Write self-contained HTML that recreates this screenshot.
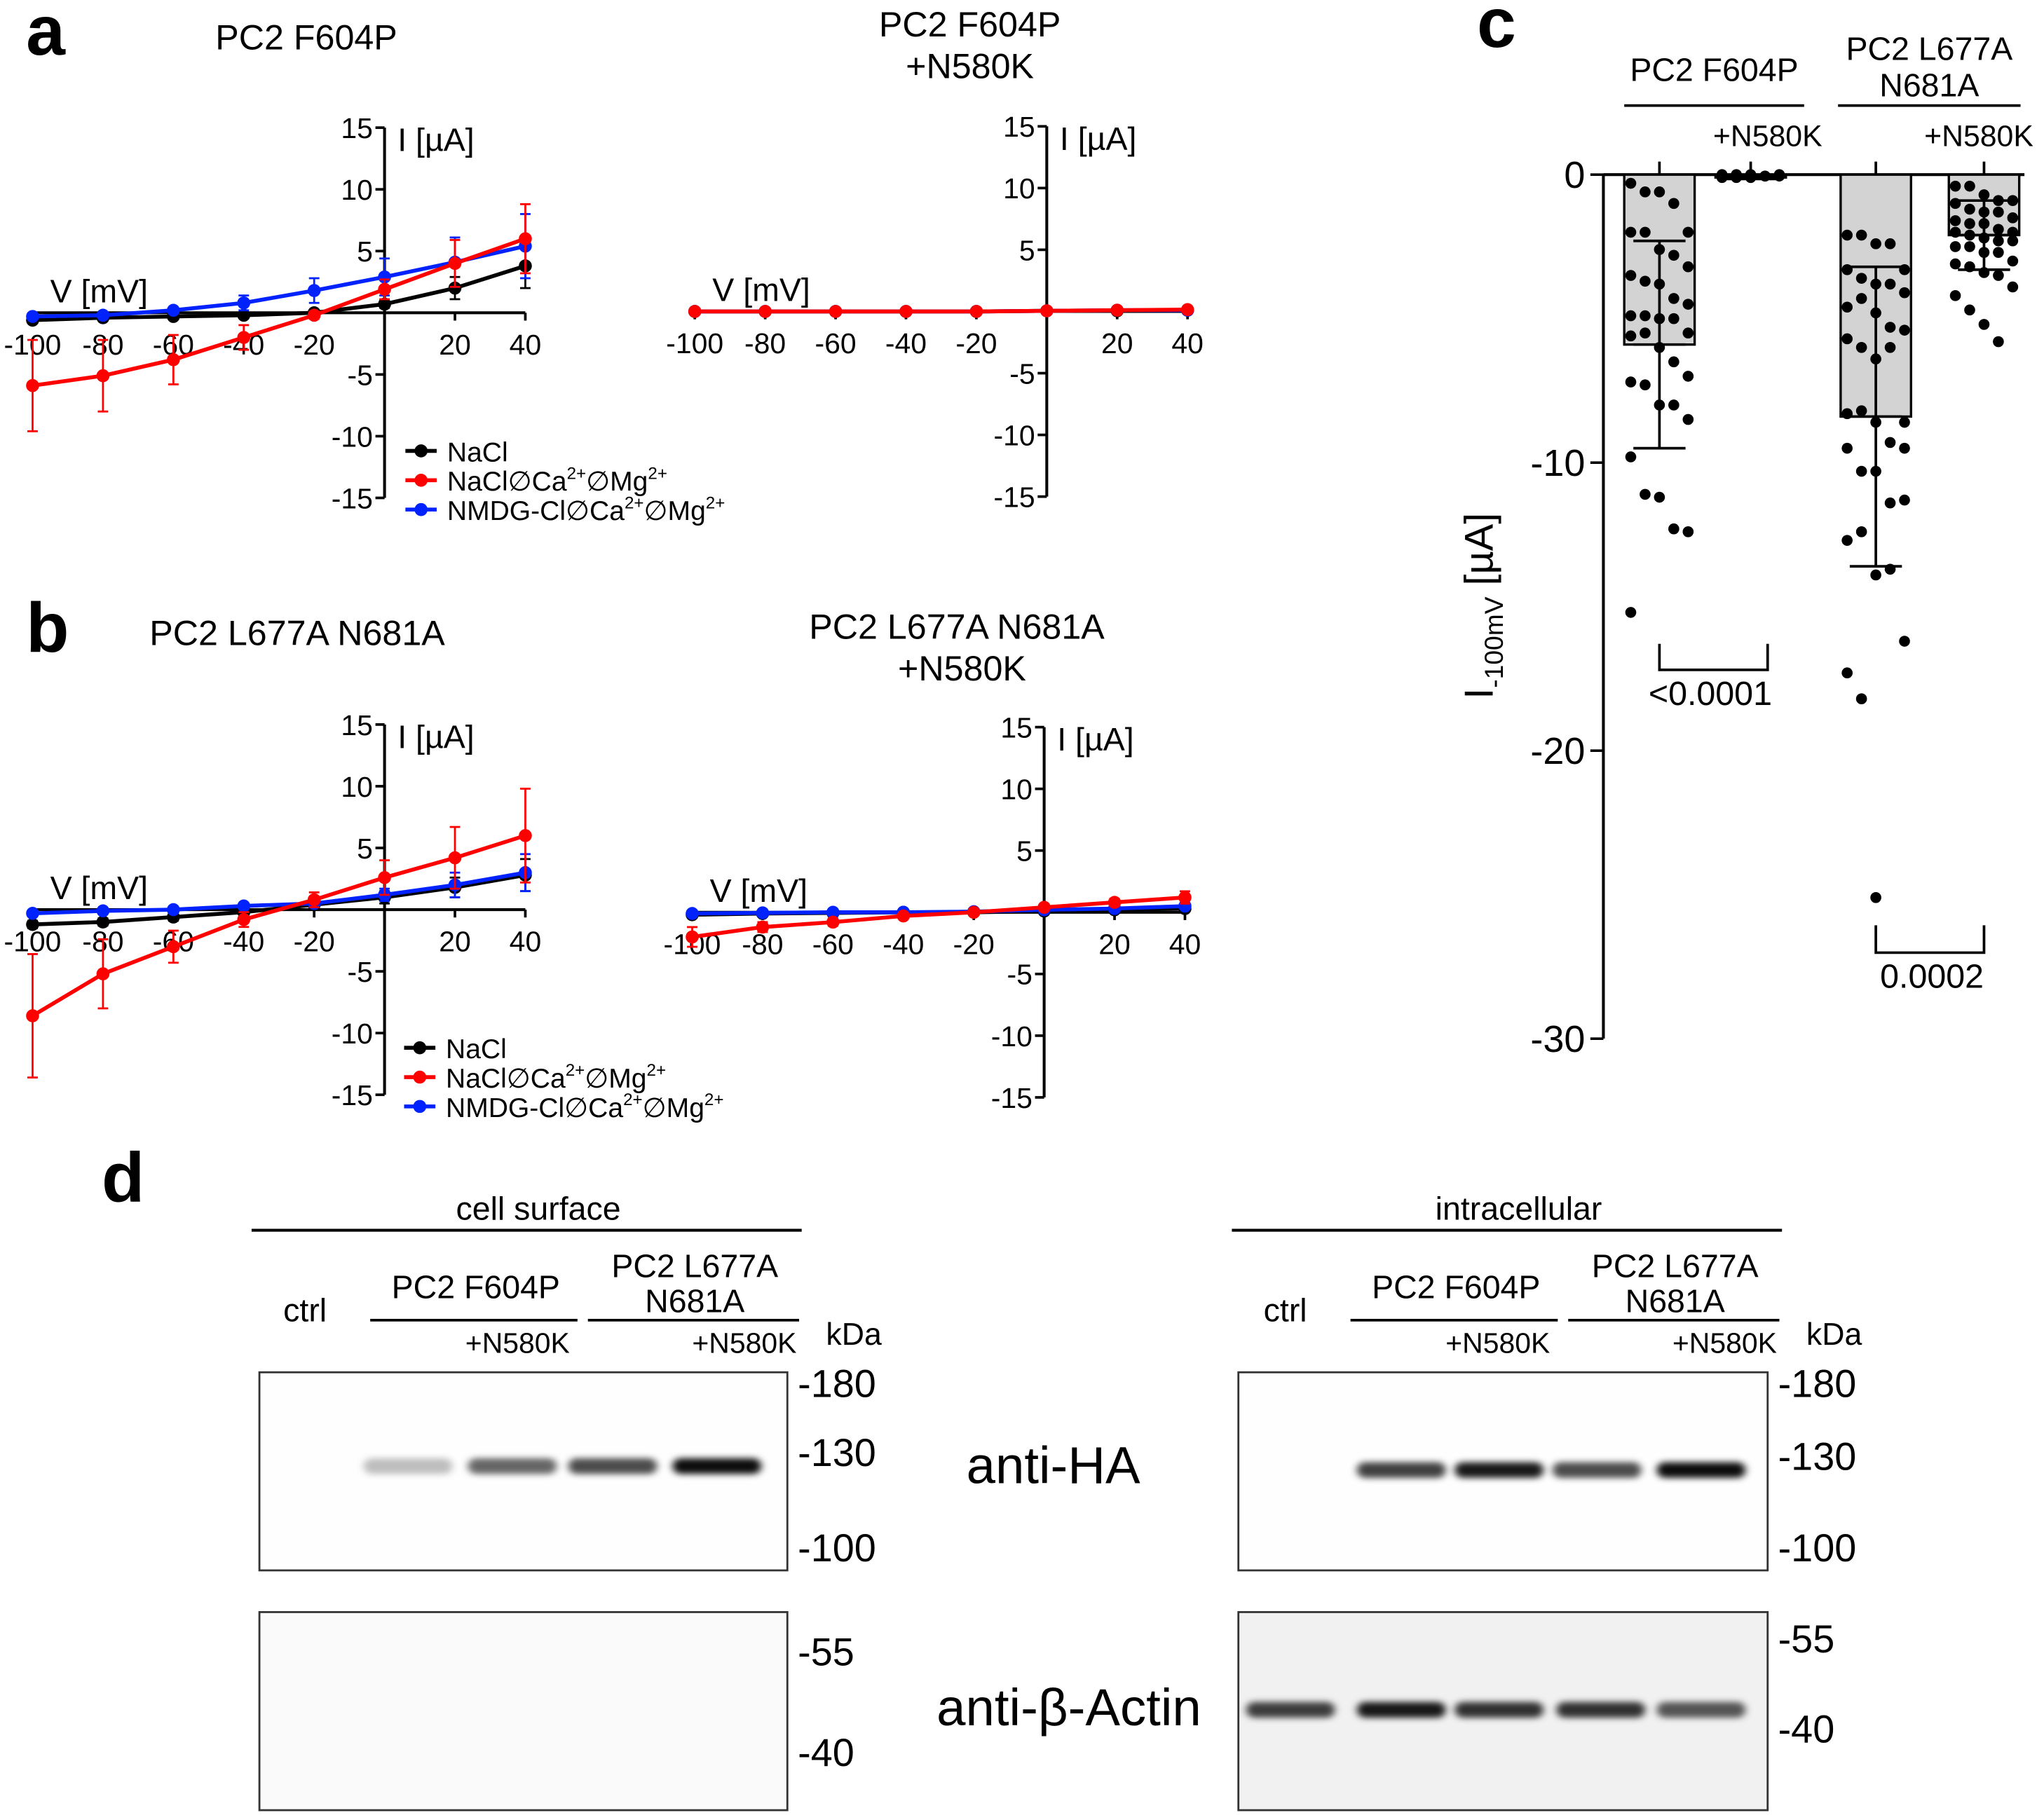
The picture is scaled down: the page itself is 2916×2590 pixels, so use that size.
<!DOCTYPE html>
<html><head><meta charset="utf-8"><style>
html,body{margin:0;padding:0;background:#fff;}
svg{display:block;font-family:"Liberation Sans Narrow","Liberation Sans",sans-serif;}
</style></head><body>
<svg id="fig" width="2916" height="2590" viewBox="0 0 1568 1392.7" xmlns="http://www.w3.org/2000/svg">
<defs>
<filter id="blur" x="-20%" y="-100%" width="140%" height="300%"><feGaussianBlur stdDeviation="3 2.5"/></filter>
</defs>
<g id="root"></g>
</svg>
<script>
// ---- Panel a/b data (I in µA at voltages) ----
const voltages = [-100,-80,-60,-40,-20,0,20,40];
const yTicks = [15,10,5,-5,-10,-15];
const xTickLabels = [-100,-80,-60,-40,-20,20,40];
// a-left PC2 F604P
const aL_nacl = [-0.6,-0.4,-0.3,-0.2,0,0.7,2.0,3.8];
const aL_nacl_err = [0.2,0.2,0.2,0.2,0.2,0.3,0.9,1.8];
const aL_red = [-5.9,-5.1,-3.8,-2.0,-0.2,1.9,4.0,6.0];
const aL_red_err = [3.7,2.9,2.0,1.0,0.3,0.8,1.9,2.8];
const aL_blue = [-0.3,-0.2,0.2,0.8,1.8,2.9,4.1,5.4];
const aL_blue_err = [0.2,0.2,0.2,0.6,1.0,1.5,2.0,2.6];
// a-right PC2 F604P +N580K
const aR_nacl = [0,0,0,0,0,0.05,0.05,0.1];
const aR_nacl_err = [0.1,0.1,0.1,0.1,0.1,0.1,0.1,0.1];
const aR_red = [0,0,0,0,0,0.05,0.1,0.15];
const aR_red_err = [0.1,0.1,0.1,0.1,0.1,0.1,0.1,0.1];
const aR_blue = [0,0,0,0,0,0.05,0.1,0.1];
const aR_blue_err = [0.1,0.1,0.1,0.1,0.1,0.1,0.1,0.1];
// b-left PC2 L677A N681A
const bL_nacl = [-1.2,-1.0,-0.6,-0.2,0.4,1.0,1.8,2.8];
const bL_nacl_err = [0.3,0.3,0.3,0.3,0.4,0.5,0.8,1.3];
const bL_red = [-8.6,-5.2,-3.0,-0.8,0.8,2.6,4.2,6.0];
const bL_red_err = [5.0,2.8,1.3,0.6,0.6,1.4,2.5,3.8];
const bL_blue = [-0.3,-0.1,0.0,0.3,0.5,1.2,2.0,3.0];
const bL_blue_err = [0.2,0.2,0.2,0.2,0.3,0.5,1.0,1.5];
// b-right PC2 L677A N681A +N580K
const bR_nacl = [-0.2,-0.1,-0.05,0,0,0.1,0.2,0.3];
const bR_nacl_err = [0.2,0.1,0.1,0.1,0.1,0.1,0.1,0.2];
const bR_red = [-2.0,-1.2,-0.8,-0.3,0,0.4,0.8,1.2];
const bR_red_err = [0.8,0.4,0.3,0.2,0.1,0.2,0.3,0.5];
const bR_blue = [-0.1,-0.05,0,0,0.05,0.2,0.3,0.5];
const bR_blue_err = [0.1,0.1,0.1,0.1,0.1,0.1,0.1,0.2];
// ---- Panel c data (I at -100 mV, µA) ----
const cGroups = ["PC2 F604P","+N580K","PC2 L677A N681A","+N580K"];
const cMeans = [-5.9,-0.1,-8.4,-2.1];
const cSD = [3.6,0.05,5.2,1.2];
const c1 = [-0.3,-0.6,-0.6,-1.0,-2.0,-2.0,-2.0,-2.6,-2.8,-3.2,-3.5,-3.7,-3.8,-4.3,-4.5,-4.9,-4.9,-5.0,-5.0,-5.5,-5.6,-5.5,-6.0,-6.5,-7.0,-7.2,-7.3,-8.0,-8.0,-8.5,-9.8,-11.1,-11.2,-12.3,-12.4,-15.2];
const c2 = [0,0,0,-0.05,-0.05,-0.05,-0.1,-0.1,-0.05,0,-0.1,-0.05];
const c3 = [-2.1,-2.1,-2.4,-2.4,-3.3,-3.3,-3.6,-3.8,-3.8,-4.1,-4.6,-4.3,-4.8,-5.3,-5.4,-5.7,-6.0,-6.4,-6.0,-8.6,-8.3,-8.2,-8.6,-9.3,-9.5,-9.5,-10.3,-10.3,-11.4,-11.3,-12.7,-12.4,-13.9,-13.7,-16.2,-17.3,-18.2,-25.1];
const c4 = [-0.4,-0.4,-0.7,-0.9,-0.9,-1.0,-1.2,-1.3,-1.3,-1.5,-1.6,-1.7,-1.7,-1.9,-2.0,-2.0,-2.1,-2.2,-2.3,-2.3,-2.5,-2.5,-2.7,-2.7,-3.0,-3.1,-3.2,-3.4,-3.5,-3.9,-4.2,-4.7,-5.2,-5.8];
// ---- Blot data (relative band intensity 0..1) ----
const laneLabels = ["ctrl","PC2 F604P","+N580K","PC2 L677A N681A","+N580K"];
const surfHA = [0,0.25,0.6,0.7,0.95];
const surfActin = [0,0,0,0,0];
const intraHA = [0,0.75,0.9,0.7,0.95];
const intraActin = [0.75,0.9,0.8,0.8,0.65];

const NS="http://www.w3.org/2000/svg";
const root=document.getElementById('root');
function mk(tag,attrs,parent){const e=document.createElementNS(NS,tag);for(const k in attrs)e.setAttribute(k,attrs[k]);(parent||root).appendChild(e);return e;}
function txt(x,y,s,size,anchor,parent,extra){const t=mk('text',Object.assign({x:x,y:y,'font-size':size,'text-anchor':anchor||'start',fill:'#000'},extra||{}),parent);t.textContent=s;return t;}

function ivPlot(name,ox,oy,vals,errs){
  const g=mk('g',{});
  
  
  const sx=v=>ox+v*2.7, sy=i=>oy-i*9.47;
  // axes
  const xa=mk('line',{x1:sx(-101),y1:oy,x2:sx(40),y2:oy,stroke:'#000','stroke-width':2.2},g);
  
  
  const ya=mk('line',{x1:ox,y1:sy(15),x2:ox,y2:sy(-15),stroke:'#000','stroke-width':2.2},g);
  
  
  yTicks.forEach(t=>{mk('line',{x1:ox-7,y1:sy(t),x2:ox,y2:sy(t),stroke:'#000','stroke-width':2},g);
    const l=txt(ox-9,sy(t)+8,String(t),22,'end',g);
    
    });
  xTickLabels.forEach(v=>{mk('line',{x1:sx(v),y1:oy,x2:sx(v),y2:oy+6,stroke:'#000','stroke-width':2},g);
    const l=txt(sx(v),oy+32,String(v),22,'middle',g);
    
    });
  mk('line',{x1:sx(0),y1:oy,x2:sx(0),y2:oy+6,stroke:'#000','stroke-width':2},g);
  const yl=txt(ox+10,sy(15)+18,'I [µA]',25,'start',g);
  
  
  const xl=txt(sx(-95),oy-8,'V [mV]',25,'start',g);
  
  
  const cols=['#000','#f00','#0022ff'];const names=['nacl','nacl-0ca-0mg','nmdg-0ca-0mg'];
  [0,2,1].forEach(s=>{
    const d=vals[s],e=errs[s];
    const sg=mk('g',{},g);
    
    
    d.forEach((v,i)=>{
      const x=sx(voltages[i]);
      mk('line',{x1:x,y1:sy(v-e[i]),x2:x,y2:sy(v+e[i]),stroke:cols[s],'stroke-width':1.5},sg);
      mk('line',{x1:x-4,y1:sy(v-e[i]),x2:x+4,y2:sy(v-e[i]),stroke:cols[s],'stroke-width':1.5},sg);
      mk('line',{x1:x-4,y1:sy(v+e[i]),x2:x+4,y2:sy(v+e[i]),stroke:cols[s],'stroke-width':1.5},sg);
    });
    mk('polyline',{points:d.map((v,i)=>sx(voltages[i])+','+sy(v)).join(' '),fill:'none',stroke:cols[s],'stroke-width':3},sg);
    d.forEach((v,i)=>{const c=mk('circle',{cx:sx(voltages[i]),cy:sy(v),r:5,fill:cols[s]},sg);
      
      });
  });
}
function legend(x,y){
  const g=mk('g',{});
  
  
  const cols=['#000','#f00','#0022ff'];
  const labs=['NaCl','NaCl∅Ca<sup>2+</sup>∅Mg<sup>2+</sup>','NMDG-Cl∅Ca<sup>2+</sup>∅Mg<sup>2+</sup>'];
  const items=[['NaCl'],['NaCl∅Ca','2+','∅Mg','2+'],['NMDG-Cl∅Ca','2+','∅Mg','2+']];
  items.forEach((it,i)=>{
    const yy=y+i*22.5;
    const e=mk('g',{},g);
    
    
    mk('line',{x1:x,y1:yy,x2:x+24,y2:yy,stroke:cols[i],'stroke-width':3},e);
    mk('circle',{cx:x+12,cy:yy,r:5,fill:cols[i]},e);
    const t=mk('text',{x:x+32,y:yy+8,'font-size':21,fill:'#000'},e);
    it.forEach((p,k)=>{const ts=mk('tspan',k%2?{'font-size':13,dy:-9}:(k>0?{dy:9}:{}),t);ts.textContent=p;});
  });
}
// panel letters and titles
[['a',20,42],['b',20,500],['c',1133,36],['d',78,922]].forEach(([s,x,y])=>{const t=txt(x,y,s,54,'start',null,{'font-weight':'bold','font-family':'Liberation Sans, sans-serif'});
  
  });
const titles=[['PC2 F604P',235,38],['PC2 F604P',744,28],['+N580K',744,60],['PC2 L677A N681A',228,495],['PC2 L677A N681A',734,490],['+N580K',738,522]];
titles.forEach(([s,x,y])=>{const t=txt(x,y,s,27,'middle');
  
  });

ivPlot('iv-plot-pc2-f604p',295,240,[aL_nacl,aL_red,aL_blue],[aL_nacl_err,aL_red_err,aL_blue_err]);
ivPlot('iv-plot-pc2-f604p-n580k',803,239,[aR_nacl,aR_red,aR_blue],[aR_nacl_err,aR_red_err,aR_blue_err]);
ivPlot('iv-plot-pc2-l677a-n681a',295,698,[bL_nacl,bL_red,bL_blue],[bL_nacl_err,bL_red_err,bL_blue_err]);
ivPlot('iv-plot-pc2-l677a-n681a-n580k',801,700,[bR_nacl,bR_red,bR_blue],[bR_nacl_err,bR_red_err,bR_blue_err]);
legend(311,346);legend(310,804);

// ---- Panel c ----
(function(){
  const g=mk('g',{});
  
  
  const y0=134, k=22.1, sy=v=>y0-v*k;
  const cx=[1273,1343,1439,1522], bw=54;
  const ya=mk('line',{x1:1230,y1:sy(0),x2:1230,y2:sy(-30),stroke:'#000','stroke-width':2.2},g);
  
  
  mk('line',{x1:1230,y1:y0,x2:1553,y2:y0,stroke:'#000','stroke-width':2.2},g);
  [0,-10,-20,-30].forEach(t=>{mk('line',{x1:1220,y1:sy(t),x2:1230,y2:sy(t),stroke:'#000','stroke-width':2},g);
    const l=txt(1216,sy(t)+10,String(t),29,'end',g,{'font-family':'Liberation Sans, sans-serif'});
    
    });
  const yt=mk('text',{x:0,y:0,'font-size':31,'text-anchor':'middle',transform:'translate(1145,465) rotate(-90)','font-family':'Liberation Sans, sans-serif'},g);
  
  
  let t1=mk('tspan',{},yt);t1.textContent='I';
  let t2=mk('tspan',{'font-size':20,dy:8},yt);t2.textContent='-100mV';
  let t3=mk('tspan',{dy:-8},yt);t3.textContent=' [µA]';
  const sets=[c1,c2,c3,c4];
  sets.forEach((d,i)=>{
    mk('line',{x1:cx[i],y1:y0,x2:cx[i],y2:y0-10,stroke:'#000','stroke-width':2},g);
    const b=mk('rect',{x:cx[i]-bw/2,y:y0,width:bw,height:Math.max(0,-cMeans[i]*k),fill:'#d3d3d3',stroke:'#000','stroke-width':1.8},g);
    
    
    d.forEach((v,j)=>{const off=((j%5)-2)*11;
      const c=mk('circle',{cx:cx[i]+off,cy:sy(v),r:4.2,fill:'#000'},g);
      
      });
    const m=cMeans[i],s=cSD[i];
    mk('line',{x1:cx[i],y1:sy(m+s),x2:cx[i],y2:sy(m-s),stroke:'#000','stroke-width':2},g);
    mk('line',{x1:cx[i]-20,y1:sy(m+s),x2:cx[i]+20,y2:sy(m+s),stroke:'#000','stroke-width':2},g);
    mk('line',{x1:cx[i]-20,y1:sy(m-s),x2:cx[i]+20,y2:sy(m-s),stroke:'#000','stroke-width':2},g);
    mk('line',{x1:cx[i]-20,y1:sy(m),x2:cx[i]+20,y2:sy(m),stroke:'#000','stroke-width':2},g);
  });
  // group headers
  [[1315,62,'PC2 F604P'],[1480,46,'PC2 L677A'],[1480,74,'N681A']].forEach(([x,y,s])=>{const t=txt(x,y,s,25,'middle',g,{'font-family':'Liberation Sans, sans-serif'});
    
    });
  mk('line',{x1:1246,y1:81,x2:1384,y2:81,stroke:'#000','stroke-width':2},g);
  mk('line',{x1:1410,y1:81,x2:1550,y2:81,stroke:'#000','stroke-width':2},g);
  [[1356,112],[1518,112]].forEach(([x,y])=>{const t=txt(x,y,'+N580K',23,'middle',g,{'font-family':'Liberation Sans, sans-serif'});
    
    });
  // significance
  mk('polyline',{points:'1273,494 1273,514 1356,514 1356,494',fill:'none',stroke:'#000','stroke-width':2},g);
  const p1=txt(1312,541,'<0.0001',26,'middle',g,{'font-family':'Liberation Sans, sans-serif'});
  
  
  mk('polyline',{points:'1439,710 1439,731 1522,731 1522,710',fill:'none',stroke:'#000','stroke-width':2},g);
  const p2=txt(1482,758,'0.0002',26,'middle',g,{'font-family':'Liberation Sans, sans-serif'});
  
  
})();

// ---- Panel d ----
function blotHeader(x0,title){
  const g=mk('g',{});
  
  
  txt(x0+214,936,title,25,'middle',g,{'font-family':'Liberation Sans, sans-serif'});
  mk('line',{x1:x0-6,y1:944,x2:x0+416,y2:944,stroke:'#000','stroke-width':2.2},g);
  const ff={'font-family':'Liberation Sans, sans-serif'};
  txt(x0+35,1014,'ctrl',25,'middle',g,ff);
  txt(x0+166,996,'PC2 F604P',25,'middle',g,ff);
  txt(x0+334,980,'PC2 L677A',25,'middle',g,ff);
  txt(x0+334,1007,'N681A',25,'middle',g,ff);
  mk('line',{x1:x0+85,y1:1013,x2:x0+244,y2:1013,stroke:'#000','stroke-width':2},g);
  mk('line',{x1:x0+252,y1:1013,x2:x0+414,y2:1013,stroke:'#000','stroke-width':2},g);
  txt(x0+198,1038,'+N580K',22,'middle',g,ff);
  txt(x0+372,1038,'+N580K',22,'middle',g,ff);
  txt(x0+456,1032,'kDa',24,'middle',g,ff);
}
blotHeader(199,'cell surface');blotHeader(951,'intracellular');
function blot(name,x,y,w,h,lanes,vals,by,bg,markers,yoffs){
  const g=mk('g',{});
  
  
  mk('rect',{x:x,y:y,width:w,height:h,fill:bg,stroke:'#333','stroke-width':1.5},g);
  vals.forEach((v,i)=>{if(v<=0)return;
    const b=mk('rect',{x:lanes[i]-34,y:by-6,width:68,height:12,rx:6,fill:'#000','fill-opacity':v,filter:'url(#blur)'},g);
    
    });
  markers.forEach(([s,yy])=>{const t=txt(x+w+8,yy,s,30,'start',g,{'font-family':'Liberation Sans, sans-serif'});
    
    });
}
blot('blot-surface-ha',199,1053,405,152,[235,313,393,470,550],surfHA,1125,'#fefefe',[['-180',1072],['-130',1125],['-100',1198]]);
blot('blot-surface-actin',199,1237,405,152,[235,313,393,470,550],surfActin,1312,'#fafafa',[['-55',1278],['-40',1355]]);
blot('blot-intra-ha',950,1053,406,152,[990,1075,1150,1225,1305],intraHA,1128,'#fefefe',[['-180',1072],['-130',1128],['-100',1198]]);
blot('blot-intra-actin',950,1237,406,152,[990,1075,1150,1228,1305],intraActin,1312,'#f1f1f1',[['-55',1268],['-40',1337]]);
[['anti-HA',808,1138],['anti-β-Actin',820,1324]].forEach(([s,x,y])=>{const t=txt(x,y,s,40,'middle',null,{'font-family':'Liberation Sans, sans-serif'});
  
  });
</script>
</body></html>
